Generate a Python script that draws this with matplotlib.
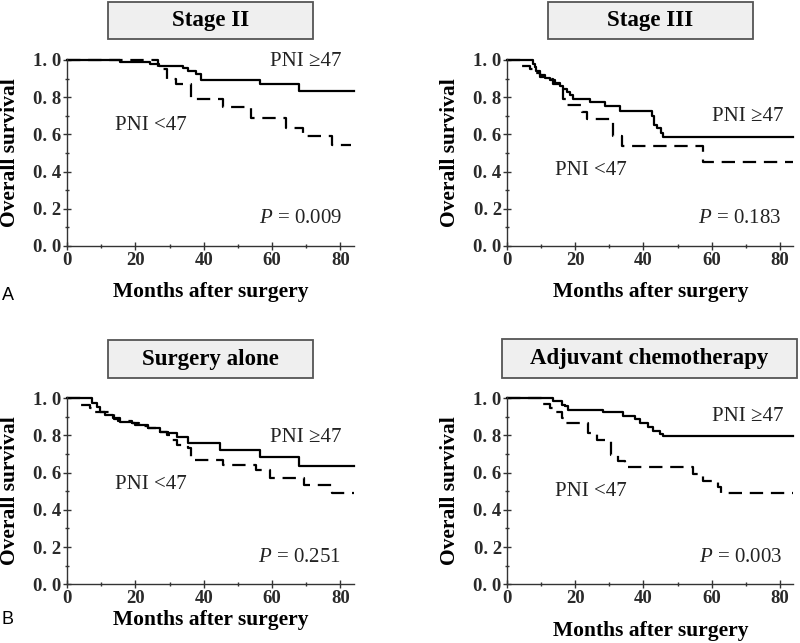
import matplotlib
matplotlib.use("Agg")
from matplotlib import pyplot as plt
from matplotlib.patches import Rectangle
from matplotlib.ticker import MultipleLocator, FixedLocator, FixedFormatter

plt.rcParams['font.family'] = ['Liberation Serif', 'DejaVu Serif']
plt.rcParams['mathtext.fontset'] = 'custom'
plt.rcParams['mathtext.rm'] = 'Liberation Serif'
plt.rcParams['mathtext.it'] = 'Liberation Serif:italic'

# Kaplan-Meier curves: months, survival
stage2_hi_t = [0, 15.5, 24.2, 27.0, 34.0, 35.4, 37.9, 39.3, 56.4, 67.8, 84]
stage2_hi_s = [1.0, 0.99, 0.98, 0.97, 0.955, 0.94, 0.925, 0.89, 0.873, 0.834, 0.834]
stage2_lo_t = [0, 26.7, 29.2, 32.0, 36.2, 45.7, 53.9, 64.1, 69.0, 77.7, 83]
stage2_lo_s = [1.0, 0.95, 0.90, 0.869, 0.788, 0.749, 0.686, 0.636, 0.59, 0.542, 0.542]

stage3_hi_t = [0, 7.5, 8.0, 8.5, 9.5, 11.0, 12.5, 14.0, 15.5, 16.5, 17.5, 18.5, 19.4,
               24.3, 28.7, 33.0, 42.4, 43.2, 44.0, 45.0, 45.8, 84]
stage3_hi_s = [1.0, 0.98, 0.96, 0.94, 0.92, 0.905, 0.89, 0.877, 0.86, 0.845, 0.83, 0.81, 0.79,
               0.773, 0.751, 0.724, 0.70, 0.652, 0.635, 0.608, 0.586, 0.586]
stage3_lo_t = [0, 3.7, 6.7, 8.0, 9.5, 11.5, 13.5, 15.5, 16.5, 17.5, 22.0, 23.3, 31.1, 33.6, 57.5, 84]
stage3_lo_s = [1.0, 0.968, 0.95, 0.93, 0.91, 0.895, 0.87, 0.842, 0.788, 0.76, 0.72, 0.685,
               0.589, 0.535, 0.454, 0.454]

surg_hi_t = [0, 7.3, 8.7, 9.7, 11.2, 13.6, 15.5, 18.9, 19.9, 23.8, 27.2, 29.6, 32.1, 35.5,
             44.7, 56.4, 67.8, 84]
surg_hi_s = [1.0, 0.975, 0.955, 0.928, 0.91, 0.892, 0.874, 0.865, 0.856, 0.838, 0.82, 0.811,
             0.794, 0.758, 0.722, 0.686, 0.636, 0.636]
surg_lo_t = [0, 3.9, 6.8, 7.8, 13.8, 15.0, 18.9, 21.0, 23.8, 27.2, 29.2, 30.1, 32.1, 35.5,
             36.4, 45.7, 55.4, 59.3, 69.5, 77.7, 84]
surg_lo_s = [1.0, 0.964, 0.945, 0.925, 0.89, 0.875, 0.865, 0.85, 0.838, 0.82, 0.8, 0.775,
             0.749, 0.735, 0.668, 0.641, 0.614, 0.57, 0.534, 0.489, 0.489]

chemo_hi_t = [0, 13.5, 16.0, 16.9, 17.9, 28.2, 34.0, 37.5, 38.9, 41.4, 42.8, 44.8, 45.8, 84]
chemo_hi_s = [1.0, 0.983, 0.966, 0.957, 0.939, 0.924, 0.906, 0.889, 0.867, 0.845, 0.822,
              0.807, 0.795, 0.795]
chemo_lo_t = [0, 10.6, 12.5, 14.0, 16.0, 16.9, 23.8, 26.2, 30.6, 32.6, 34.5, 54.6, 57.5,
              61.9, 62.9, 84]
chemo_lo_s = [1.0, 0.971, 0.948, 0.924, 0.894, 0.867, 0.813, 0.777, 0.696, 0.66, 0.63,
              0.594, 0.553, 0.522, 0.49, 0.49]

titles = ['Stage II', 'Stage III', 'Surgery alone', 'Adjuvant chemotherapy']
p_values = ['0.009', '0.183', '0.251', '0.003']
y_ticks = [0.0, 0.2, 0.4, 0.6, 0.8, 1.0]
y_tick_labels = ['0. 0', '0. 2', '0. 4', '0. 6', '0. 8', '1. 0']
x_ticks = [0, 20, 40, 60, 80]

curves = [
    (stage2_hi_t, stage2_hi_s, stage2_lo_t, stage2_lo_s),
    (stage3_hi_t, stage3_hi_s, stage3_lo_t, stage3_lo_s),
    (surg_hi_t, surg_hi_s, surg_lo_t, surg_lo_s),
    (chemo_hi_t, chemo_hi_s, chemo_lo_t, chemo_lo_s),
]

W, H = 800, 643
fig = plt.figure(figsize=(8, 6.43), dpi=100)

# axes rectangles (pixel based) and label / box placement
ax_rects = [(67, 246, 287), (507.3, 246, 286), (67, 584.3, 287), (507.3, 584.3, 286)]
boxes = [(108, 2, 313, 39), (548, 2, 753, 39), (108, 340, 313, 378), (502, 339, 797, 378)]
xlabel_y = [-0.246, -0.245, -0.19, -0.25]
hi_pos = [(70, 0.99), (70.6, 0.697), (70, 0.79), (70.7, 0.902)]
lo_pos = [(24.5, 0.65), (24.5, 0.404), (24.5, 0.534), (24.5, 0.499)]
p_pos = [(80.6, 0.15), (80.5, 0.15), (80.2, 0.145), (80.8, 0.145)]

for i, (left, y0, width) in enumerate(ax_rects):
    ax = fig.add_axes([left / W, (H - y0) / H, width / W, 187 / H])
    hi_t, hi_s, lo_t, lo_s = curves[i]
    ax.step(hi_t, hi_s, where='post', color='black', lw=1.6, clip_on=False)
    ax.step(lo_t, lo_s, where='post', color='black', lw=1.6, dashes=(6, 3.5), clip_on=False)

    ax.set_xlim(0, 84)
    ax.set_ylim(0, 1.005)
    ax.spines['top'].set_visible(False)
    ax.spines['right'].set_visible(False)
    for s in ('left', 'bottom'):
        ax.spines[s].set_linewidth(1.0)
        ax.spines[s].set_color('#333333')

    ax.yaxis.set_major_locator(FixedLocator(y_ticks))
    ax.yaxis.set_major_formatter(FixedFormatter(y_tick_labels))
    ax.yaxis.set_minor_locator(MultipleLocator(0.1))
    ax.xaxis.set_major_locator(FixedLocator(x_ticks))
    ax.xaxis.set_minor_locator(MultipleLocator(10))
    ax.tick_params(which='major', direction='inout', length=6, width=1.0, color='#333333',
                   labelsize=13.5, labelcolor='#2a2a2a', pad=1)
    ax.tick_params(which='minor', direction='inout', length=3, width=1.0, color='#333333')
    for lab in ax.get_yticklabels() + ax.get_xticklabels():
        lab.set_fontweight('bold')

    ax.set_ylabel('Overall survival', fontsize=15.5, fontweight='bold')
    ax.yaxis.label.set_va('center')
    ax.yaxis.set_label_coords(-0.2, 0.5)
    ax.set_xlabel('Months after surgery', fontsize=15.5, fontweight='bold')
    ax.xaxis.label.set_va('center')
    ax.xaxis.set_label_coords(0.5, xlabel_y[i])

    ax.text(hi_pos[i][0], hi_pos[i][1], 'PNI \u226547', fontsize=15, color='#222222',
            ha='center', va='center')
    ax.text(lo_pos[i][0], lo_pos[i][1], 'PNI <47', fontsize=15, color='#222222',
            ha='center', va='center')
    ax.text(p_pos[i][0], p_pos[i][1], r'$\it{P}$ = ' + p_values[i], fontsize=15,
            color='#222222', ha='right', va='center')

    # title box
    x1, yt, x2, yb = boxes[i]
    fig.patches.append(Rectangle((x1 / W, (H - yb) / H), (x2 - x1) / W, (yb - yt) / H,
                                 transform=fig.transFigure, facecolor='#efefef',
                                 edgecolor='#555555', lw=1.3))
    fig.text((x1 + x2) / 2 / W, (H - (yt + yb) / 2) / H, titles[i], fontsize=16.5,
             fontweight='bold', ha='center', va='center')

fig.text(8 / W, (H - 296) / H, 'A', fontsize=13, family='Liberation Sans', ha='center', va='center')
fig.text(7 / W, (H - 620) / H, 'B', fontsize=13, family='Liberation Sans', ha='center', va='center')

fig.savefig('out.png', dpi=100)
